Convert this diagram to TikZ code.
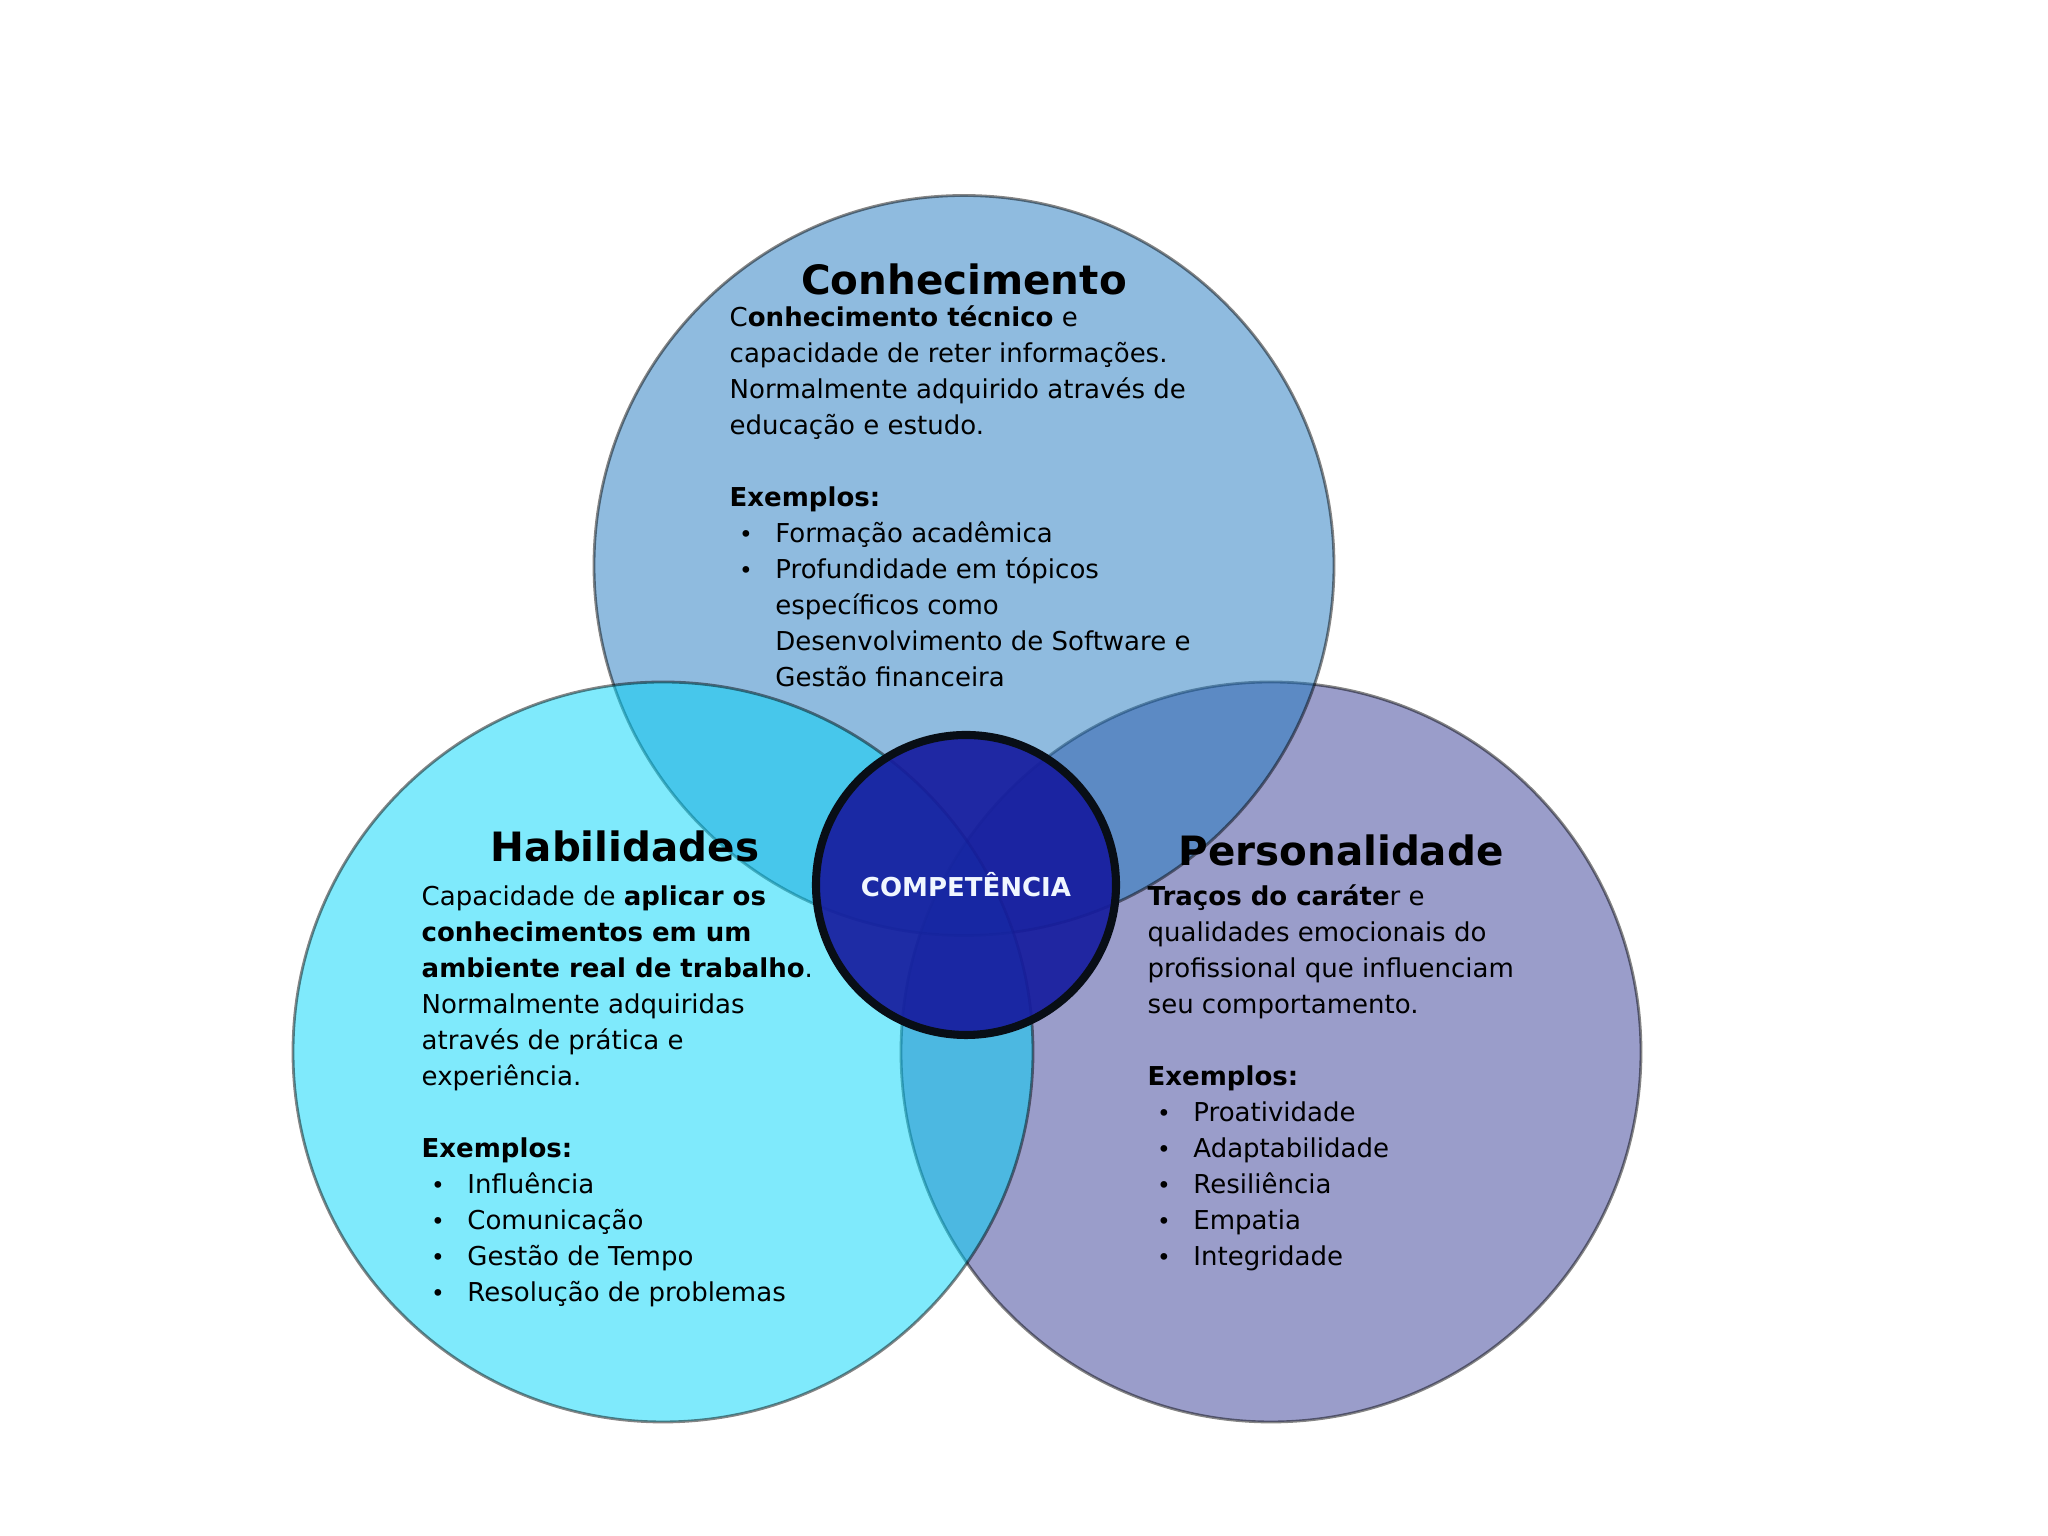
\documentclass[tikz,border=0pt]{standalone}
\usepackage{fontspec}
\setmainfont{DejaVu Sans}
\usepackage{xcolor}
\usetikzlibrary{positioning}

\definecolor{knowblue}{RGB}{31,119,191}
\definecolor{skillcyan}{RGB}{0,213,249}
\definecolor{persviolet}{RGB}{53,59,149}
\definecolor{coreblue}{RGB}{22,28,158}
\definecolor{coreline}{RGB}{8,14,22}
\definecolor{coretext}{RGB}{240,246,255}

\tikzset{
  venn/.style={circle, minimum size=7.4cm, draw=black, draw opacity=0.48,
    fill opacity=0.5, line width=0.8pt},
  headText/.style={anchor=base, inner sep=0, font=\fontsize{11.5}{13}\selectfont\bfseries},
  body/.style={anchor=base west, inner sep=0, font=\fontsize{7.4}{9}\selectfont},
  bul/.style={anchor=base, inner sep=0, font=\fontsize{6.6}{9}\selectfont},
  core/.style={circle, minimum size=3.0cm, draw=coreline, line width=2.3pt,
    fill=coreblue, fill opacity=0.92, text=coretext, text opacity=1,
    font=\fontsize{7.4}{9}\selectfont\bfseries}
}

\begin{document}
\begin{tikzpicture}
  % line height and list indents
  \def\rowH{0.36}
  \def\bulOff{0.17}
  \def\itemOff{0.457}

  \useasboundingbox (0,0) rectangle (20.48,15.36);

  % the three circles (right first, then top, then left)
  \node[venn, fill=persviolet] (pers) at (12.71,4.84) {};
  \node[venn, fill=knowblue] (know) at (9.64,9.705) {};
  \node[venn, fill=skillcyan] (skill) at (6.63,4.84) {};

  % centre
  \node[core] (comp) at (9.66,6.51) {COMPETÊNCIA};

  % Conhecimento
  \node[headText] (knowTitle) at (9.64,12.41) {Conhecimento};
  \foreach \txt [count=\i from 0] in {C\textbf{onhecimento técnico} e,
      capacidade de reter informações.,
      Normalmente adquirido através de,
      educação e estudo.}
    \node[body] (knowLine\i) at (7.29,12.09-\i*\rowH) {\txt};
  \node[body] (knowEx) at (7.29,12.09-5*\rowH) {\textbf{Exemplos:}};
  \foreach \txt [count=\i from 0] in {Formação acadêmica,
      Profundidade em tópicos}
  {
    \node[bul] (knowBul\i) at (7.29+\bulOff,12.09-6*\rowH-\i*\rowH) {\textbullet};
    \node[body] (knowItem\i) at (7.29+\itemOff,12.09-6*\rowH-\i*\rowH) {\txt};
  }
  \foreach \txt [count=\i from 0] in {específicos como,
      Desenvolvimento de Software e,
      Gestão financeira}
    \node[body] (knowMore\i) at (7.29+\itemOff,12.09-8*\rowH-\i*\rowH) {\txt};

  % Habilidades
  \node[headText] (skillTitle) at (6.25,6.74) {Habilidades};
  \foreach \txt [count=\i from 0] in {Capacidade de \textbf{aplicar os},
      \textbf{conhecimentos em um},
      \textbf{ambiente real de trabalho}.,
      Normalmente adquiridas,
      através de prática e,
      experiência.}
    \node[body] (skillLine\i) at (4.21,6.30-\i*\rowH) {\txt};
  \node[body] (skillEx) at (4.21,6.30-7*\rowH) {\textbf{Exemplos:}};
  \foreach \txt [count=\i from 0] in {Influência,
      Comunicação,
      Gestão de Tempo,
      Resolução de problemas}
  {
    \node[bul] (skillBul\i) at (4.21+\bulOff,6.30-8*\rowH-\i*\rowH) {\textbullet};
    \node[body] (skillItem\i) at (4.21+\itemOff,6.30-8*\rowH-\i*\rowH) {\txt};
  }

  % Personalidade
  \node[headText] (persTitle) at (13.41,6.70) {Personalidade};
  \foreach \txt [count=\i from 0] in {\textbf{Traços do caráte}r e,
      qualidades emocionais do,
      profissional que influenciam,
      seu comportamento.}
    \node[body] (persLine\i) at (11.47,6.30-\i*\rowH) {\txt};
  \node[body] (persEx) at (11.47,6.30-5*\rowH) {\textbf{Exemplos:}};
  \foreach \txt [count=\i from 0] in {Proatividade,
      Adaptabilidade,
      Resiliência,
      Empatia,
      Integridade}
  {
    \node[bul] (persBul\i) at (11.47+\bulOff,6.30-6*\rowH-\i*\rowH) {\textbullet};
    \node[body] (persItem\i) at (11.47+\itemOff,6.30-6*\rowH-\i*\rowH) {\txt};
  }

\end{tikzpicture}
\end{document}
